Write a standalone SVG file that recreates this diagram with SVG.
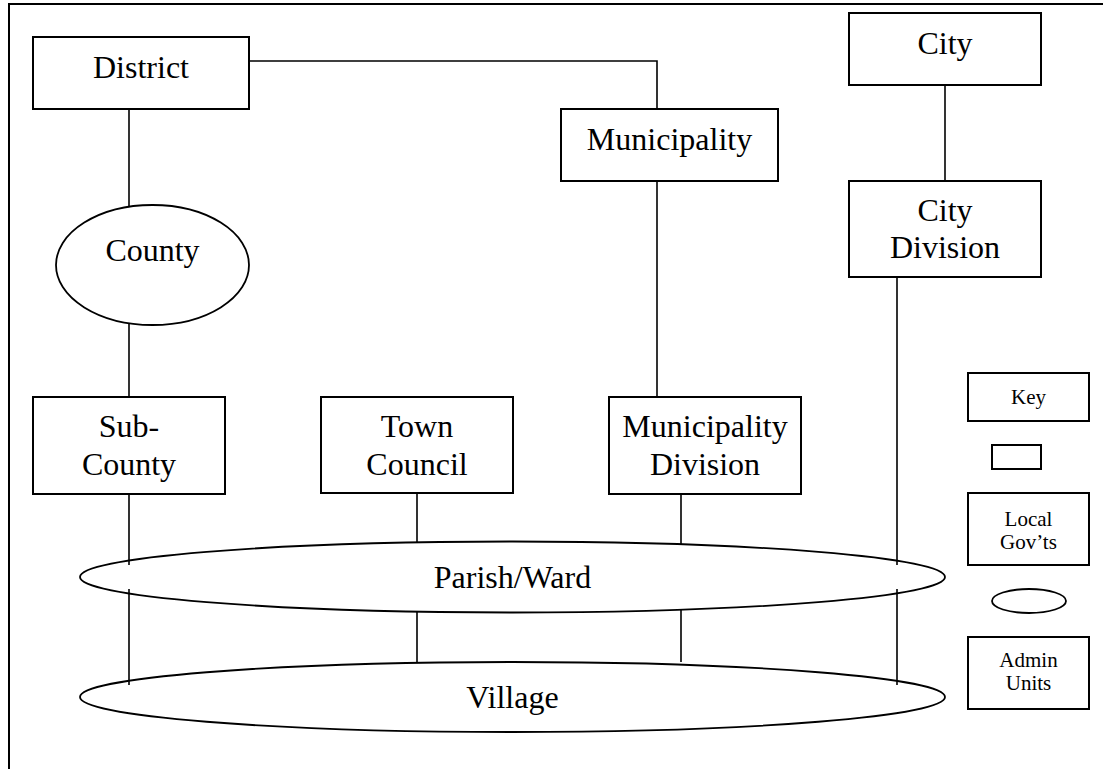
<svg xmlns="http://www.w3.org/2000/svg" width="1103" height="769" viewBox="0 0 1103 769">
<style>
.box{fill:#fff;stroke:#000;stroke-width:2}
.ell{fill:#fff;stroke:#000;stroke-width:1.8}
.ln{fill:none;stroke:#000;stroke-width:1.6}
.t{font-family:"Liberation Serif","Times New Roman",serif;font-size:32px;fill:#000;text-anchor:middle}
.s{font-family:"Liberation Serif","Times New Roman",serif;font-size:21px;fill:#000;text-anchor:middle}
</style>
<rect width="1103" height="769" fill="#fff"/>
<path d="M9,769 V4 H1103" fill="none" stroke="#000" stroke-width="2"/>
<g id="connectors">
<path class="ln" d="M249,61 H657 V109"/>
<path class="ln" d="M129,109 V265"/>
<path class="ln" d="M129,265 V397"/>
<path class="ln" d="M945,85 V181"/>
<path class="ln" d="M657,181 V397"/>
</g>
<g id="district"><rect class="box" x="33" y="37" width="216" height="72"/><text class="t" x="141" y="78">District</text></g>
<g id="municipality"><rect class="box" x="561" y="109" width="217" height="72"/><text class="t" x="669.5" y="150">Municipality</text></g>
<g id="city"><rect class="box" x="849" y="13" width="192" height="72"/><text class="t" x="945" y="54">City</text></g>
<g id="city-division"><rect class="box" x="849" y="181" width="192" height="96"/><text class="t" x="945" y="221">City</text><text class="t" x="945" y="258">Division</text></g>
<g id="county"><ellipse class="ell" cx="152.5" cy="265" rx="96.5" ry="60"/><text class="t" x="152.5" y="261">County</text></g>
<g id="sub-county"><rect class="box" x="33" y="397" width="192" height="97"/><text class="t" x="129" y="437">Sub-</text><text class="t" x="129" y="475">County</text></g>
<g id="town-council"><rect class="box" x="321" y="397" width="192" height="96"/><text class="t" x="417" y="437">Town</text><text class="t" x="417" y="475">Council</text></g>
<g id="municipality-division"><rect class="box" x="609" y="397" width="192" height="97"/><text class="t" x="705" y="437">Municipality</text><text class="t" x="705" y="475">Division</text></g>
<g id="parish-ward"><ellipse class="ell" cx="512.5" cy="577" rx="432.5" ry="35.5"/><text class="t" x="512.5" y="588">Parish/Ward</text></g>
<g id="village"><ellipse class="ell" cx="512.5" cy="697" rx="432.5" ry="35"/><text class="t" x="512.5" y="708">Village</text></g>
<g id="connectors-lower">
<path class="ln" d="M129,494 V565 M129,589 V685"/>
<path class="ln" d="M897,277 V565 M897,589 V685"/>
<path class="ln" d="M417,493 V542.5 M417,611.5 V662.5"/>
<path class="ln" d="M681,494 V544 M681,610 V662"/>
</g>
<g id="key"><rect class="box" x="968" y="373" width="121" height="48"/><text class="s" x="1028.5" y="404">Key</text></g>
<g id="key-rect"><rect class="box" x="992" y="445" width="49" height="24" stroke-width="1.6"/></g>
<g id="key-local"><rect class="box" x="968" y="493" width="121" height="72"/><text class="s" x="1028.5" y="526">Local</text><text class="s" x="1028.5" y="549">Gov’ts</text></g>
<g id="key-ellipse"><ellipse class="ell" cx="1029" cy="601" rx="37" ry="12"/></g>
<g id="key-admin"><rect class="box" x="968" y="637" width="121" height="72"/><text class="s" x="1028.5" y="667">Admin</text><text class="s" x="1028.5" y="690">Units</text></g>
</svg>
